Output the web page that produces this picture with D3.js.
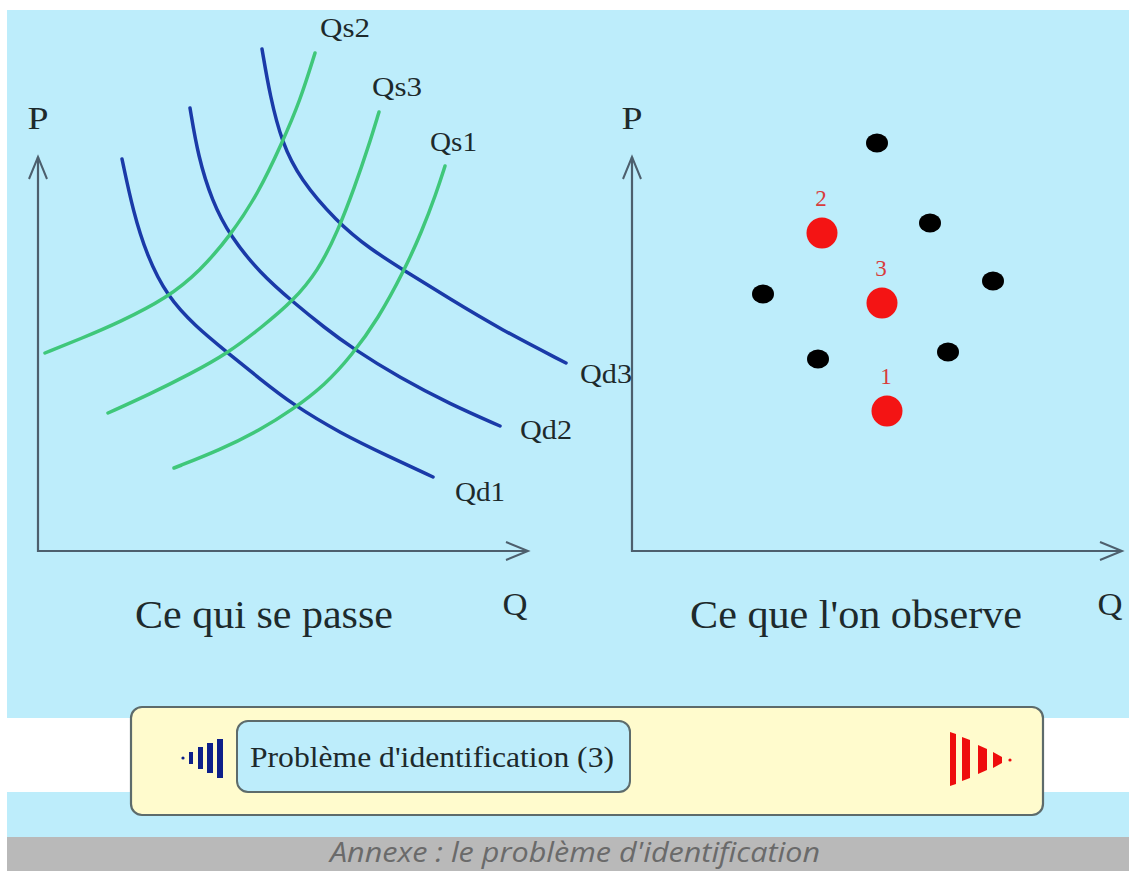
<!DOCTYPE html>
<html><head><meta charset="utf-8">
<script src="https://cdn.jsdelivr.net/npm/d3@7/dist/d3.min.js"></script>
<style>html,body{margin:0;padding:0;background:#fff;}svg{display:block;}</style>
</head><body>
<script>
// ---- data (arbitrary Q / P units) ----
const curveNames = ["Qd1","Qd2","Qd3","Qs2","Qs3","Qs1"];
const curveTypes = ["demand","demand","demand","supply","supply","supply"];
const qd1 = [[84,392],[95,340],[109,295],[129,255],[157,225],[190,198],[222,172],[254,147],[302,118],[352,94],[395,74]];
const qd2 = [[152,443],[160,395],[174,350],[192,315],[222,278],[255,249],[287,223],[314,203],[362,173],[412,147],[462,125]];
const qd3 = [[224,502],[232,455],[244,408],[262,372],[298,330],[332,302],[367,280],[412,252],[462,222],[528,188]];
const qs2 = [[7,198],[42,212],[82,229],[129,253],[162,280],[192,315],[220,357],[244,408],[262,450],[277,498]];
const qs3 = [[70,138],[112,157],[152,177],[190,198],[224,224],[255,250],[280,280],[300,320],[317,365],[330,403],[341,439]];
const qs1 = [[136,83],[182,101],[222,121],[254,141],[287,166],[314,196],[340,232],[366,280],[384,320],[398,357],[407,385]];
const curveData = [qd1,qd2,qd3,qs2,qs3,qs1];

const obsBlackQ = [245,298,361,131,186,316];
const obsBlackP = [408,328,270,257,192,199];
const obsRedLabels = ["2","3","1"];
const obsRedQ = [190,250,255];
const obsRedP = [318,248,140];

const titles = ["Ce qui se passe","Ce que l'on observe"];
const axisLabelsY = ["P","P"];
const axisLabelsX = ["Q","Q"];
const buttonLabel = "Problème d'identification (3)";
const caption = "Annexe : le problème d'identification";

// ---- drawing ----
const W = 1129, H = 871;
const svg = d3.select("body").append("svg").attr("width", W).attr("height", H);
const serif = "'Liberation Serif','Times New Roman',serif";
const ink = "#1d2a2c";

// backgrounds
svg.append("rect").attr("x",7).attr("y",10).attr("width",W-7).attr("height",828).attr("fill","#bdedfb");
svg.append("rect").attr("x",7).attr("y",718).attr("width",W-7).attr("height",74).attr("fill","#ffffff");
svg.append("rect").attr("x",7).attr("y",837).attr("width",W-7).attr("height",34).attr("fill","#b9b9b9");

const axisColor = "#4d5f6d";
const panels = [
  {x0:38, x1:528, y0:551, y1:157, tx:264, tw:258, qx:515, px:38},
  {x0:632, x1:1122, y0:551, y1:157, tx:856, tw:332, qx:1110, px:632}
];
const scales = panels.map(p => ({
  x: d3.scaleLinear().domain([0,490]).range([p.x0, p.x0+490]),
  y: d3.scaleLinear().domain([0,400]).range([p.y0, p.y0-400])
}));

function txt(x,y,s,size,opts={}){
  const t = svg.append("text").attr("x",x).attr("y",y).attr("font-family",opts.family||serif)
    .attr("font-size",size).attr("fill",opts.fill||ink).attr("text-anchor",opts.anchor||"start").text(s);
  if(opts.style) t.attr("font-style",opts.style);
  if(opts.len) t.attr("textLength",opts.len).attr("lengthAdjust","spacingAndGlyphs");
  return t;
}

panels.forEach((p,i) => {
  const g = svg.append("g");
  g.append("path").attr("d", `M${p.x0},${p.y1} L${p.x0},${p.y0} L${p.x1},${p.y0}`)
    .attr("fill","none").attr("stroke",axisColor).attr("stroke-width",2.2);
  g.append("path").attr("d", `M${p.x0-9},${p.y1+22} L${p.x0},${p.y1} L${p.x0+9},${p.y1+22}`)
    .attr("fill","none").attr("stroke",axisColor).attr("stroke-width",2);
  g.append("path").attr("d", `M${p.x1-22},${p.y0-9} L${p.x1},${p.y0} L${p.x1-22},${p.y0+9}`)
    .attr("fill","none").attr("stroke",axisColor).attr("stroke-width",2);
  txt(p.px,129,axisLabelsY[i],32,{anchor:"middle",len:21});
  txt(p.qx,615,axisLabelsX[i],32,{anchor:"middle",len:25});
  txt(p.tx,628,titles[i],41,{anchor:"middle",len:p.tw});
});

// left panel curves
const sx = scales[0].x, sy = scales[0].y;
const line = d3.line().x(d=>sx(d[0])).y(d=>sy(d[1])).curve(d3.curveBasis);
const curveColor = {demand:"#1a3aa8", supply:"#3fc77a"};
curveData.forEach((pts,i) => {
  svg.append("path").attr("d", line(pts)).attr("fill","none")
    .attr("stroke", curveColor[curveTypes[i]]).attr("stroke-width",3.5).attr("stroke-linecap","round");
});
// curve labels
const labelPos = {Qd1:[455,501,50],Qd2:[520,439,52],Qd3:[580,383,52],Qs2:[320,37,50],Qs3:[372,96,50],Qs1:[430,151,47]};
curveNames.forEach(n => txt(labelPos[n][0],labelPos[n][1],n,28,{len:labelPos[n][2]}));

// right panel observations
const rx = scales[1].x, ry = scales[1].y;
obsBlackQ.forEach((q,i) => {
  svg.append("ellipse").attr("cx",rx(q)).attr("cy",ry(obsBlackP[i])).attr("rx",11).attr("ry",9.5).attr("fill","#000");
});
obsRedQ.forEach((q,i) => {
  svg.append("circle").attr("cx",rx(q)).attr("cy",ry(obsRedP[i])).attr("r",15.5).attr("fill","#f41414");
  txt(rx(q)-1, ry(obsRedP[i])-27, obsRedLabels[i], 23, {anchor:"middle", fill:"#d83c3c"});
});

// navigation bar
svg.append("rect").attr("x",131).attr("y",707).attr("width",912).attr("height",108).attr("rx",11)
  .attr("fill","#fffbcd").attr("stroke","#5d6b6b").attr("stroke-width",2.2);
svg.append("rect").attr("x",237).attr("y",721).attr("width",393).attr("height",71).attr("rx",11)
  .attr("fill","#bdedfb").attr("stroke","#5d6b6b").attr("stroke-width",2);
txt(432,767,buttonLabel,30,{anchor:"middle",len:364});

// blue left arrow icon
const blueBars = [[217,739,778,6],[207,743,773,6],[198,747,769,5],[189,752,764,4]];
blueBars.forEach(b => svg.append("rect").attr("x",b[0]).attr("y",b[1]).attr("width",b[3]).attr("height",b[2]-b[1]).attr("fill","#0d1f8a"));
svg.append("circle").attr("cx",183).attr("cy",758).attr("r",1.6).attr("fill","#0d1f8a");
// red right arrow icon
const redBars = [[950,732,786,6],[962,737,781,8],[978,745,774,9],[993,752,768,9]];
redBars.forEach((b,i) => svg.append("path")
  .attr("d",`M${b[0]},${b[1]} L${b[0]+b[3]},${b[1]+2+i} L${b[0]+b[3]},${b[2]-2-i} L${b[0]},${b[2]} Z`)
  .attr("fill","#ee0d0d"));
svg.append("circle").attr("cx",1010).attr("cy",760).attr("r",1.6).attr("fill","#ee0d0d");

// caption
txt(575,862,caption,27,{anchor:"middle",family:"'Open Sans',sans-serif",style:"italic",fill:"#6a6a6a",len:490});
</script>
</body></html>
